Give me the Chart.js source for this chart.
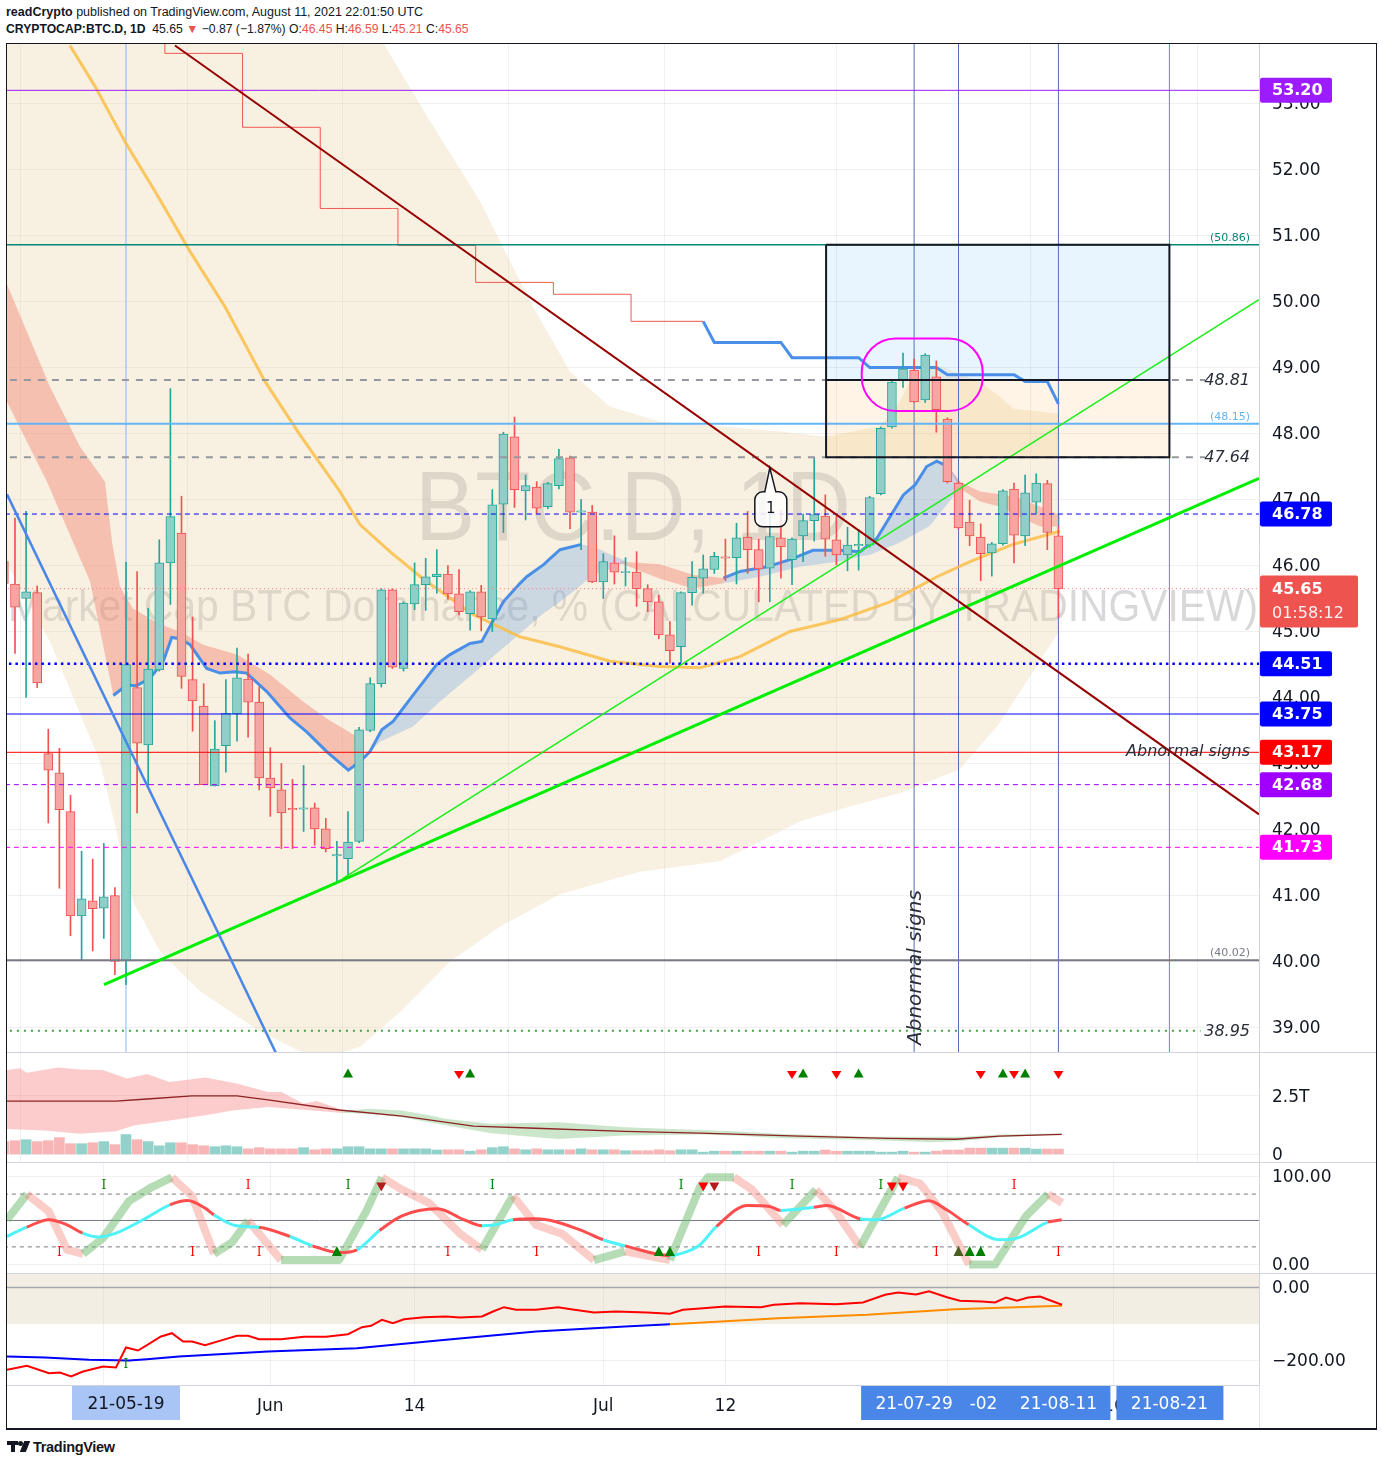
<!DOCTYPE html>
<html>
<head>
<meta charset="utf-8">
<script src="https://cdn.jsdelivr.net/npm/chart.js@4.4.1/dist/chart.umd.min.js"></script>
<style>
  html, body { margin:0; padding:0; background:#fff; }
  body { width:1382px; height:1466px; position:relative; overflow:hidden; font-family:"Liberation Sans", Arial, sans-serif; color:#131722; }
  .hdr { position:absolute; left:6px; font-size:12.5px; white-space:nowrap; line-height:14px; }
  #h1 { top:5px; }
  #h2 { top:22px; font-size:12.2px; }
  .red { color:#ef5350; }
  #frame { position:absolute; left:6px; top:43px; width:1371px; height:1387px; box-sizing:border-box; border:1px solid #131722; border-bottom:2px solid #131722; }
  canvas { position:absolute; left:7px; }
  .sep { position:absolute; left:7px; width:1369px; height:1px; background:#d1d4dc; }
  #vsep { position:absolute; left:1259px; top:1385px; width:1px; height:43px; background:#e0e3eb; }
  #foot { position:absolute; left:33px; top:1439px; font-size:14.5px; font-weight:bold; letter-spacing:-0.3px; }
  .lg { position:absolute; background:#131722; }
</style>
</head>
<body>
<div class="hdr" id="h1"><b>readCrypto</b> published on TradingView.com, August 11, 2021 22:01:50 UTC</div>
<div class="hdr" id="h2"><b>CRYPTOCAP:BTC.D, 1D</b>&nbsp; 45.65 <span class="red">▼</span> −0.87 (−1.87%) O:<span class="red">46.45</span> H:<span class="red">46.59</span> L:<span class="red">45.21</span> C:<span class="red">45.65</span></div>
<div id="frame"></div>
<canvas id="cMain" width="1369" height="1008" style="top:44px"></canvas>
<canvas id="cVol" width="1369" height="110" style="top:1053px"></canvas>
<canvas id="cOsc" width="1369" height="111" style="top:1163px"></canvas>
<canvas id="cBot" width="1369" height="154" style="top:1274px"></canvas>
<div class="sep" style="top:1052px"></div>
<div class="sep" style="top:1162px"></div>
<div class="sep" style="top:1273px"></div>
<div id="vsep"></div>
<div class="lg" style="left:7px;top:1441px;width:11px;height:4px"></div>
<div class="lg" style="left:11px;top:1441px;width:4px;height:11px"></div>
<div class="lg" style="left:18px;top:1441px;width:5px;height:5px;border-radius:3px"></div>
<div class="lg" style="left:22px;top:1441px;width:6px;height:11px;transform:skewX(-22deg)"></div>
<div id="foot">TradingView</div>
<script>
// ---------------- DATA ----------------
// day index 0 = 2021-05-08 ... 95 = 2021-08-11
const opens  = [46.06,45.72,45.50,45.59,43.15,42.86,42.27,40.69,40.92,40.81,41.00,40.01,44.15,43.28,44.42,46.04,46.49,44.27,43.87,42.66,43.27,43.75,44.28,43.93,42.78,42.60,42.32,42.31,42.33,42.01,41.60,41.56,41.82,43.50,44.21,45.63,44.44,45.42,45.71,45.83,45.87,45.57,45.27,45.60,45.19,46.93,47.95,47.13,47.19,46.89,47.21,47.63,46.81,46.81,45.75,46.04,45.89,45.90,45.65,45.45,44.95,44.77,45.59,45.81,45.94,46.13,46.12,46.43,46.24,45.96,46.42,46.09,46.45,46.68,46.75,46.39,46.16,46.30,46.31,47.09,48.10,48.81,48.96,48.51,48.86,48.22,47.25,46.66,46.43,46.19,46.33,47.16,46.45,46.96,47.24,46.45];
const highs  = [46.20,46.72,46.82,45.69,43.52,43.23,42.52,41.67,41.55,41.79,41.12,46.05,45.91,45.35,46.39,48.68,47.05,45.22,44.21,43.65,44.27,44.75,44.66,44.16,43.24,43.00,42.76,42.97,42.40,42.17,41.82,42.27,43.55,44.30,45.65,45.65,45.45,46.04,46.11,46.24,46.00,45.94,45.62,45.70,47.15,48.02,48.25,47.37,47.27,47.26,47.76,47.66,47.00,46.91,46.18,46.45,46.12,46.21,45.71,45.55,45.15,45.60,46.06,46.16,46.20,46.40,46.64,46.82,46.40,46.79,46.84,46.42,46.78,47.63,47.07,46.75,46.58,46.54,47.05,48.10,48.80,49.22,49.13,49.21,49.10,48.24,47.27,46.99,46.63,46.35,47.15,47.25,47.37,47.39,47.29,46.59];
const lows   = [45.60,44.67,44.00,44.15,42.10,41.11,40.39,40.02,40.16,40.35,39.80,39.65,42.25,42.67,44.40,45.41,44.14,43.49,42.68,42.66,42.87,43.34,43.40,42.60,42.20,41.71,41.71,41.97,41.76,41.66,41.21,41.26,41.80,43.48,44.16,44.44,44.40,45.33,45.32,45.58,45.49,45.25,45.02,45.01,45.00,46.50,46.88,46.69,46.79,46.86,47.16,46.56,46.24,45.74,45.50,45.72,45.69,45.38,45.30,44.89,44.52,44.53,45.40,45.58,45.88,45.77,45.72,45.88,45.45,45.45,45.81,45.71,46.06,46.37,46.14,46.01,45.92,45.93,46.28,47.07,48.08,48.70,48.47,48.47,48.02,47.25,46.55,46.30,45.77,45.84,46.31,46.04,46.30,46.78,46.24,45.21];
const closes = [45.73,45.37,45.60,44.22,42.90,42.30,40.69,40.95,40.80,40.98,40.00,44.50,43.31,44.43,46.04,46.74,44.32,43.95,42.68,43.22,43.76,44.30,43.93,42.78,42.63,42.25,42.30,42.33,42.01,41.71,41.62,41.81,43.51,44.21,45.63,44.46,45.43,45.71,45.83,45.87,45.57,45.30,45.60,45.22,46.92,47.99,47.15,47.21,46.87,47.24,47.62,46.81,46.83,45.75,46.06,45.90,45.91,45.65,45.45,44.95,44.71,45.59,45.82,45.95,46.14,46.11,46.42,46.24,45.95,46.44,46.28,46.40,46.68,46.77,46.40,46.16,46.31,46.32,47.03,48.08,48.78,48.98,48.48,49.19,48.36,47.27,46.57,46.45,46.18,46.33,47.13,46.46,47.10,47.25,46.50,45.65];
const volumes = [0.55,0.59,0.63,0.55,0.59,0.72,0.46,0.46,0.50,0.55,0.42, 0.85,0.63,0.55,0.37,0.50,0.50,0.42,0.37,0.33,0.37, 0.33,0.24,0.29,0.24,0.24,0.24,0.29,0.20,0.24,0.24, 0.33,0.33,0.24,0.24,0.24,0.24,0.24,0.24,0.19,0.20, 0.20,0.14,0.20,0.29,0.33,0.24,0.20,0.24,0.20,0.20, 0.20,0.24,0.20,0.20,0.20,0.16,0.16,0.16,0.20,0.16, 0.20,0.20,0.10,0.14,0.14,0.14,0.14,0.14,0.14,0.14, 0.10,0.14,0.14,0.19,0.14,0.14,0.14,0.14,0.10,0.10, 0.14,0.10,0.10,0.14,0.19,0.19,0.27,0.27,0.27,0.27, 0.27,0.27,0.23,0.23,0.23];

// time axis
const gridDays = [9, 24, 37, 54, 65, 85, 100];
const timeLabels = ['17', 'Jun', '14', 'Jul', '12', 'Aug', '16'];
const markedDays = [11, 82, 86, 95, 105];
const markedLabels = ['21-05-19', '21-07-29', '-02', '21-08-11', '21-08-21'];

// price axis
const priceTicks = [39,40,41,42,43,44,45,46,47,48,49,50,51,52,53];
const levelPrices = [53.20, 50.86, 48.81, 48.15, 47.64, 46.78, 45.65, 44.51, 43.75, 43.17, 42.68, 41.73, 40.02, 38.95];
const tagPrices = [53.20, 46.78, 44.51, 43.75, 43.17, 42.68, 41.73];
const lastPrice = 45.65;
const countdown = '01:58:12';
const vlineDays = [11, 82, 86, 95, 105];

// drawings
const trendDarkRed = [[15.41, 53.88], [113.07, 42.23]];
const trendBlue = [[0.28, 47.08], [24.52, 38.61]];
const trendGreenThick = [[9.02, 39.65], [113.07, 47.32]];
const trendGreenThin = [[30.55, 41.26], [113.07, 50.03]];
const boxDays = [74.07, 105];
const boxPrices = [50.86, 48.81, 47.64];
const calloutPoint = [69.0, 47.48];
const calloutText = '1';
const ellipseCenter = [82.73, 48.89];
const ellipseRadius = [5.45, 0.55];
const noteText = 'Abnormal signs';
const watermarkTitle = 'BTC.D, 1D';
const watermarkSub = 'Market Cap BTC Dominance, % (CALCULATED BY TRADINGVIEW)';

// indicators (main pane)
const stepRed = [[14,54.6],[15,53.76],[21,53.76],[22,52.64],[28,52.64],[29,51.41],[35,51.41],[36,50.85],[42,50.85],[43,50.29],[49,50.29],[50,50.11],[56,50.11],[57,49.70],[63,49.70]];
const stepBlue = [[63,49.70],[64,49.38],[70,49.38],[71,49.15],[77,49.15],[78,49.00],[84,49.00],[85,48.89],[91,48.89],[92,48.79],[94,48.79],[95,48.45]];
const emaYellow = [[5.95,53.88],[8.21,53.26],[10.91,52.42],[13.61,51.67],[16.76,50.76],[19.92,49.92],[23.52,48.79],[26.67,47.98],[30.28,47.12],[32.08,46.62],[34.78,46.21],[37.76,45.80],[42.26,45.26],[46.49,44.92],[50.09,44.77],[54.60,44.55],[59.10,44.47],[62.71,44.45],[66.31,44.62],[70.81,45.00],[75.32,45.18],[79.83,45.45],[84.06,45.83],[87.04,46.06],[90.91,46.32],[95.14,46.52]];
const emaBlue1 = [[9.86,44.03],[11.06,44.19],[11.96,44.18],[13.16,44.29],[14.36,44.55],[15.12,44.91],[15.86,44.89],[16.77,44.80],[18.27,44.44],[19.47,44.37],[20.82,44.39],[21.87,44.37],[23.68,44.09],[25.77,43.69],[27.28,43.48],[29.08,43.18],[31.03,42.90],[32.08,43.03],[32.98,43.18],[34.04,43.51],[35.08,43.64],[36.88,44.04],[38.99,44.50],[40.19,44.65],[41.99,44.82],[43.05,44.85],[44.99,45.45],[46.50,45.73],[47.10,45.83],[48.59,46.01],[50.10,46.24],[52.05,46.32]];
const emaBlue2 = [[64.81,45.81],[66.31,45.91],[68.72,45.98],[70.82,46.09],[72.89,46.23],[75.32,46.23],[77.13,46.21],[78.63,46.41],[81.03,47.07],[82.08,47.22],[83.13,47.50],[84.04,47.58],[85.08,47.50]];
const pinkUpper1 = [[0.28,50.26],[4.15,48.71],[6.86,47.80],[9.11,47.27],[9.74,46.36],[10.46,45.68],[11.63,45.35],[14.06,45.11],[15.86,45.00],[17.94,44.80],[21.0,44.65],[23.97,44.35],[26.95,43.94],[29.11,43.68],[32.08,43.38]];
const pinkLowerLead = [[0.28,48.48],[3.88,47.27],[7.76,45.76]];
const blueTail1 = [[53.07,46.29],[54.6,46.17],[56.13,46.06]];
const blueLower1 = [[32.08,43.03],[33.88,43.33],[36.86,43.56],[39.29,43.94],[42.26,44.36],[44.42,44.67],[46.50,44.97],[48.56,45.27],[50.10,45.45],[51.63,45.65],[53.07,45.86],[54.60,45.94],[56.13,46.06]];
const pinkUpper2 = [[55.5,46.06],[59.1,46.02],[62.08,45.86],[64.81,45.81]];
const pinkLower2 = [[55.5,46.04],[59.1,45.80],[62.08,45.65],[64.81,45.73]];
const blueLower2 = [[64.81,45.73],[68.1,45.83],[71.7,45.98],[75.3,46.06],[77.13,46.14],[78.0,46.16],[80.7,46.35],[83.4,46.60],[85.08,46.95],[86.13,47.17]];
const pinkUpper3 = [[85.08,47.50],[86.13,47.27],[87.93,47.12],[89.74,47.08],[91.5,47.02],[93.35,46.89],[95.14,46.77]];
const pinkLower3 = [[86.13,47.17],[87.93,46.97],[89.74,46.89],[91.5,46.74],[93.35,46.59],[95.14,46.59]];
const cloudUpper = [[0.28,55.5],[30,55.5],[34.3,53.88],[38.4,52.73],[42.9,51.52],[47.4,50.0],[51.0,48.94],[54.6,48.41],[59.1,48.18],[64.5,48.11],[69.9,48.03],[74.1,47.95],[78.9,48.11],[80.7,48.48],[82.1,48.94],[84.3,49.02],[87.9,48.79],[89.7,48.56],[90.9,48.38],[95.05,48.30]];
const cloudLower = [[0.28,46.02],[4.15,44.85],[8.66,43.03],[11.63,40.91],[14.06,40.15],[17.67,39.55],[23.07,38.94],[26.67,38.64],[29.4,38.56],[32.1,38.71],[35.7,39.24],[40.2,40.0],[44.7,40.53],[50.1,41.02],[57.3,41.36],[64.5,41.52],[69.0,41.89],[71.7,42.12],[76.2,42.35],[80.7,42.55],[86.1,42.91],[89.7,43.61],[93.3,44.55],[95.05,45.0]];

// volume pane
const volMA = [[0.28,2.28],[10.1,2.28],[12.9,2.37],[16.95,2.5],[21.0,2.5],[23.8,2.33],[30.2,1.90],[35.9,1.64],[42.3,1.21],[47.9,1.12],[55.95,0.99],[62.7,0.91],[71.7,0.78],[79.7,0.69],[85.7,0.65],[89.7,0.78],[95.3,0.86]];
const volBandUpperPink = [[0.25,3.61],[1.46,3.68],[2.06,3.49],[4.87,3.72],[6.89,3.63],[8.9,3.61],[11.1,3.25],[12.9,3.44],[14.9,3.10],[18.15,3.29],[20.96,3.03],[23.8,2.67],[25.0,2.67],[27.0,2.17],[28.2,2.28],[30.6,1.88]];
const volBandLowerPink = [[0.25,1.09],[3.67,1.02],[6.89,0.88],[10.1,0.99],[11.7,1.24],[14.9,1.45],[18.15,1.67],[20.6,1.88],[23.8,2.03],[27.8,1.88],[30.6,1.77]];
const volBandUpperGreen = [[30.6,1.88],[33.0,1.95],[35.85,1.88],[38.3,1.67],[39.9,1.52],[43.9,1.31],[49.9,1.38],[55.95,1.16],[62.7,1.05],[65.8,0.99],[69.8,0.88],[77.8,0.76],[83.7,0.76],[86.5,0.76],[89.7,0.85],[95.3,0.91]];
const volBandLowerGreen = [[30.6,1.77],[33.0,1.74],[35.85,1.59],[39.9,1.24],[43.9,0.91],[49.9,0.66],[55.95,0.81],[62.7,0.85],[65.8,0.81],[69.8,0.70],[77.8,0.62],[83.7,0.52],[86.5,0.59],[89.7,0.73],[95.3,0.85]];
const volUpDays = [31, 42, 72, 77, 90, 92];
const volDownDays = [41, 71, 75, 88, 91, 95];

// oscillator pane
const oscK = [[0.28,50.8],[2.08,80],[4.06,60],[5.68,17],[7.13,12],[8.93,30],[11.27,72],[13.34,88],[15.14,99],[16.95,78],[18.93,12],[20.55,25],[21.99,50],[24.96,5],[27.76,5],[30.19,5],[32.62,60],[34.06,99],[35.86,85],[38.29,70],[41.09,35],[43.07,17],[45.86,78],[47.94,45],[50.28,35],[53.16,5],[55.95,15],[60.0,5],[62.71,88],[63.43,99],[65.77,99],[67.4,85],[70.19,45],[73.16,85],[74.96,60],[77.13,20],[80.55,99],[82.53,92],[84.51,60],[86.95,0],[89.29,0],[92.08,55],[94.06,80],[95.32,70]];
const oscSignal = [[0.25,31.8],[2.06,42.4],[4.06,50.8],[5.68,45.1],[7.09,35.6],[8.48,31.1],[10.1,35.6],[12.53,50.8],[14.96,67.8],[16.54,72.7],[18.12,64.0],[18.93,56.4],[20.96,44.0],[22.98,42.4],[25.77,31.8],[27.8,21.2],[30.19,13.6],[31.81,16.7],[33.84,38.6],[35.86,55.3],[39.06,63.3],[41.45,50.8],[43.07,44.0],[44.29,45.1],[45.86,50.8],[47.94,51.9],[51.9,39.4],[53.97,28.1],[55.95,21.2],[60.0,10.2],[61.59,14.8],[62.71,22.4],[64.2,43.2],[66.99,67.0],[68.98,65.9],[69.98,61.4],[72.98,65.1],[74.15,67.0],[77.13,51.9],[78.57,50.8],[81.14,64.0],[83.34,72.3],[84.93,62.1],[86.93,45.1],[89.74,28.1],[91.27,29.9],[94.06,48.1],[95.3,50.8]];
const oscSignalRed = [[2.06,7.09],[14.96,18.93],[22.98,25.77],[27.8,31.81],[33.84,43.07],[45.86,53.97],[55.95,60.0],[64.2,69.98],[72.98,77.13],[81.14,86.93],[94.06,95.3]];
const oscLevels = [80, 50, 20];
const oscTopGreenI = [9, 31, 44, 61, 71, 79];
const oscTopRedI = [22, 91];
const oscTopRedTri = [34, 63, 64, 80, 81];
const oscBotRedI = [5, 17, 23, 40, 48, 68, 75, 84, 95];
const oscBotGreenTri = [30, 59, 60, 86, 87, 88];

// bottom pane
const botRed = [[0.28,-225.5],[2.08,-214.5],[4.06,-234.7],[5.05,-232.9],[6.05,-243.8],[7.13,-230.1],[8.93,-216.4],[10.1,-219.2],[11.0,-164.4],[12.08,-172.6],[12.89,-158],[14.15,-134.2],[15.14,-125.1],[16.14,-148],[16.95,-148],[18.12,-158],[19.74,-143.4],[21.0,-132.4],[21.99,-132.4],[22.98,-141.6],[24.96,-141.6],[27.04,-135.2],[29.02,-135.2],[31.0,-127.9],[32.26,-108.7],[33.07,-105],[34.06,-88.5],[35.05,-97.7],[36.04,-86.8],[37.85,-81.3],[39.83,-79.5],[41.09,-82.2],[43.07,-79.5],[44.06,-65.8],[45.05,-53.9],[46.14,-61.1],[47.94,-61.1],[49.92,-53.9],[51.09,-59.4],[53.16,-68.5],[55.14,-65.8],[57.93,-68.5],[60.0,-72.1],[61.18,-61.1],[62.71,-57.5],[64.96,-52.1],[68.2,-53.9],[69.38,-47.4],[71.72,-43],[74.96,-45.8],[77.39,-41.1],[79.38,-20],[80.55,-13.7],[82.17,-19.2],[83.34,-10.1],[84.96,-26.6],[86.13,-36.4],[88.11,-38.4],[89.29,-41.1],[90.28,-27.4],[91.27,-36.4],[92.26,-27.4],[93.34,-24.7],[95.32,-47.4]];
const botBlue = [[0.28,-189],[3.7,-191.8],[7.67,-198.1],[11.27,-200],[12.89,-196.4],[15.77,-189],[23.79,-175.3],[31.81,-166.3],[39.83,-143.3],[47.94,-120.5],[55.95,-106.8],[60.0,-100.5]];
const botOrange = [[60.0,-100.5],[61.8,-97.7],[69.74,-84.1],[77.75,-74.8],[85.68,-59.4],[95.32,-50.1]];
const botBand = [100, -100];
const botGreenI = [11];

// ---------------- STYLE / HELPERS ----------------
Chart.defaults.font.family = '"DejaVu Sans", sans-serif';
Chart.defaults.color = '#131722';
const GRID = 'rgba(42,46,57,0.07)';
const X_MIN = 0.28, X_MAX = 113.07;
const GREEN_FILL = '#8fcfc7', GREEN_LINE = '#26a69a', RED_FILL = '#f6a5a2', RED_LINE = '#ef5350';

const P = arr => arr.map(p => ({x: p[0], y: p[1]}));
function ln(points, color, width, extra) {
  return Object.assign({type: 'line', data: P(points), borderColor: color, borderWidth: width, pointRadius: 0, fill: false, tension: 0}, extra || {});
}
function shape(upper, lower, color, order) {
  return {type: 'line', data: P(upper.concat(lower.slice().reverse())), borderColor: 'rgba(0,0,0,0)', borderWidth: 0,
    backgroundColor: color, fill: 'shape', pointRadius: 0, tension: 0, order: order};
}
function xScale(showLabels) {
  return {
    type: 'linear', min: X_MIN, max: X_MAX, offset: false,
    grid: {color: GRID, drawTicks: false},
    border: {display: showLabels, color: '#d1d4dc'},
    ticks: {display: showLabels, autoSkip: false, maxRotation: 0, padding: 11, font: {size: 17}, color: '#131722',
      callback: v => { const i = gridDays.indexOf(v); return i >= 0 ? timeLabels[i] : ''; }},
    afterBuildTicks: s => { s.ticks = gridDays.map(v => ({value: v})); },
    afterFit: s => { s.height = showLabels ? 43 : 0; s.paddingLeft = 0; s.paddingRight = 0; }
  };
}
function yScale(min, max, ticks, fmt) {
  return {
    type: 'linear', position: 'right', min: min, max: max,
    grid: {color: GRID, drawTicks: false},
    border: {display: true, color: '#d1d4dc'},
    ticks: {padding: 13, labelOffset: 1.5, font: {size: 17}, color: '#131722', callback: fmt},
    afterBuildTicks: s => { s.ticks = ticks.map(v => ({value: v})); },
    afterFit: s => { s.width = 117; s.paddingTop = 0; s.paddingBottom = 0; }
  };
}
function baseOptions(scales) {
  return {responsive: false, animation: false, events: [], layout: {padding: 0},
    plugins: {legend: {display: false}, tooltip: {enabled: false}}, scales: scales};
}
function tri(ctx, x, y, up, color, w, h) {
  ctx.fillStyle = color; ctx.beginPath();
  if (up) { ctx.moveTo(x, y - h / 2); ctx.lineTo(x + w / 2, y + h / 2); ctx.lineTo(x - w / 2, y + h / 2); }
  else { ctx.moveTo(x - w / 2, y - h / 2); ctx.lineTo(x + w / 2, y - h / 2); ctx.lineTo(x, y + h / 2); }
  ctx.closePath(); ctx.fill();
}
function fitText(ctx, text, x, y, size, width) {
  ctx.font = size + 'px "Liberation Sans"';
  const w = ctx.measureText(text).width;
  ctx.save(); ctx.translate(x, y); ctx.scale(width / w, 1); ctx.fillText(text, 0, 0); ctx.restore();
}
const isUp = i => closes[i] >= opens[i];

// ---------------- MAIN PANE ----------------
const Y_MIN = 38.629, Y_MAX = 53.902;
const levelStyle = [
  {c: '#9c1cff', w: 1}, {c: '#00897b', w: 1.5}, {c: '#9598a1', w: 2, d: [7, 7], end: 108.2}, {c: '#64b5f6', w: 2},
  {c: '#9598a1', w: 2, d: [7, 7], end: 108.2}, {c: '#0000ff', w: 1, d: [5, 4]}, {c: '#f77c80', w: 1, d: [1, 3]},
  {c: '#0000ff', w: 2.5, d: [2.5, 4]}, {c: '#0000ff', w: 1}, {c: '#ff0000', w: 1}, {c: '#a000ff', w: 1, d: [5, 4]},
  {c: '#ff00ff', w: 1, d: [5, 4]}, {c: '#787b86', w: 2}, {c: '#43a047', w: 2, d: [2, 5], end: 107.8}
];
const tagColors = ['#9c1cff', '#0000ff', '#0000ff', '#0000ff', '#ff0000', '#a000ff', '#ff00ff'];
const vlineColors = ['#8ab4f8', '#5570b8', '#5570b8', '#5570b8', '#4d8ff0'];

const mainDatasets = [];
mainDatasets.push(shape(cloudUpper, cloudLower, 'rgba(233,208,163,0.32)', 100));
mainDatasets.push(shape([[boxDays[0], boxPrices[0]], [boxDays[1], boxPrices[0]]], [[boxDays[0], boxPrices[1]], [boxDays[1], boxPrices[1]]], 'rgba(33,150,243,0.1)', 99));
mainDatasets.push(shape([[boxDays[0], boxPrices[1]], [boxDays[1], boxPrices[1]]], [[boxDays[0], boxPrices[2]], [boxDays[1], boxPrices[2]]], 'rgba(255,152,0,0.1)', 99));
const pinkC = 'rgba(242,120,105,0.40)', blueC = 'rgba(74,144,226,0.26)';
mainDatasets.push(shape(pinkUpper1, pinkLowerLead.concat(emaBlue1.filter(p => p[0] <= 32.08)), pinkC, 90));
mainDatasets.push(shape(emaBlue1.filter(p => p[0] >= 32.08).concat(blueTail1), blueLower1, blueC, 90));
mainDatasets.push(shape(pinkUpper2, pinkLower2, pinkC, 90));
mainDatasets.push(shape(emaBlue2.concat([[86.13, 47.27]]), blueLower2, blueC, 90));
mainDatasets.push(shape(pinkUpper3, pinkLower3, pinkC, 90));
vlineDays.forEach((d, i) => mainDatasets.push(ln([[d, Y_MIN - 1], [d, Y_MAX + 1]], vlineColors[i], 1, {order: 85})));
mainDatasets.push(ln(emaYellow, 'rgba(250,190,70,0.85)', 3, {order: 80}));
mainDatasets.push(ln(emaBlue1, '#4a8fe7', 3, {order: 75}));
mainDatasets.push(ln(emaBlue2, '#4a8fe7', 3, {order: 75}));
mainDatasets.push(ln(stepRed, '#f05a4f', 1, {order: 75, stepped: 'middle'}));
mainDatasets.push(ln(stepBlue, '#4a8fe7', 3, {order: 75}));
mainDatasets.push({type: 'bar', order: 30, grouped: false, barThickness: 1, borderWidth: 0,
  data: lows.map((l, i) => ({x: i, y: [l, highs[i]]})),
  backgroundColor: c => isUp(c.dataIndex) ? GREEN_LINE : RED_LINE});
mainDatasets.push({type: 'bar', order: 20, grouped: false, barThickness: 9, borderWidth: 1, borderSkipped: false,
  data: opens.map((o, i) => ({x: i, y: [o, closes[i]]})),
  backgroundColor: c => isUp(c.dataIndex) ? GREEN_FILL : RED_FILL,
  borderColor: c => isUp(c.dataIndex) ? GREEN_LINE : RED_LINE});
levelPrices.forEach((v, i) => {
  const s = levelStyle[i];
  mainDatasets.push(ln([[X_MIN - 1, v], [s.end || X_MAX + 1, v]], s.c, s.w, {order: 15, borderDash: s.d || []}));
});
mainDatasets.push(ln(trendDarkRed, '#960000', 2, {order: 12}));
mainDatasets.push(ln(trendBlue, '#4a86e8', 2.5, {order: 12}));
mainDatasets.push(ln(trendGreenThick, '#00ee00', 3, {order: 12}));
mainDatasets.push(ln(trendGreenThin, '#1aef1a', 1.5, {order: 12}));
mainDatasets.push(ln([[boxDays[0], boxPrices[0]], [boxDays[1], boxPrices[0]], [boxDays[1], boxPrices[2]], [boxDays[0], boxPrices[2]], [boxDays[0], boxPrices[0]]], '#131722', 2, {order: 11}));
mainDatasets.push(ln([[boxDays[0], boxPrices[1]], [boxDays[1], boxPrices[1]]], '#131722', 2, {order: 11}));

const mainPlugin = {
  id: 'mainPlugin',
  beforeDatasetsDraw(chart) {
    const {ctx, chartArea: a} = chart;
    ctx.save();
    ctx.beginPath(); ctx.rect(a.left, a.top, a.right - a.left, a.bottom - a.top); ctx.clip();
    ctx.fillStyle = 'rgba(105,105,115,0.26)';
    ctx.textAlign = 'center'; ctx.textBaseline = 'alphabetic';
    const cx = (a.left + a.right) / 2;
    fitText(ctx, watermarkTitle, cx, a.top + 496, 98, 436);
    fitText(ctx, watermarkSub, cx, a.top + 577, 44, 1250);
    ctx.restore();
  },
  afterDraw(chart) {
    const {ctx, chartArea: a, scales: {x, y}} = chart;
    const px = d => x.getPixelForValue(d), py = v => y.getPixelForValue(v);
    ctx.save();
    ctx.beginPath(); ctx.rect(a.left, a.top, a.right - a.left, a.bottom - a.top); ctx.clip();
    const ex = px(ellipseCenter[0]), ey = py(ellipseCenter[1]);
    const erx = px(ellipseCenter[0] + ellipseRadius[0]) - ex, ery = ey - py(ellipseCenter[1] + ellipseRadius[1]);
    ctx.strokeStyle = '#ff00ff'; ctx.lineWidth = 2;
    ctx.beginPath(); ctx.roundRect(ex - erx, ey - ery, erx * 2, ery * 2, 34); ctx.stroke();
    const tx = px(calloutPoint[0]), ty = py(calloutPoint[1]);
    const L = tx - 15, R = tx + 17, T = ty + 24, B = ty + 59, r = 8;
    ctx.beginPath();
    ctx.moveTo(tx, ty); ctx.lineTo(tx + 6, T);
    ctx.arcTo(R, T, R, B, r); ctx.arcTo(R, B, L, B, r); ctx.arcTo(L, B, L, T, r); ctx.arcTo(L, T, R, T, r);
    ctx.lineTo(tx - 5, T); ctx.closePath();
    ctx.fillStyle = 'rgba(255,255,255,0.85)'; ctx.fill();
    ctx.strokeStyle = '#131722'; ctx.lineWidth = 1.5; ctx.stroke();
    ctx.fillStyle = '#131722'; ctx.font = '15px "DejaVu Sans"'; ctx.textAlign = 'center'; ctx.textBaseline = 'middle';
    ctx.fillText(calloutText, tx + 1, (T + B) / 2);
    const rx = a.right - 9;
    ctx.textAlign = 'right';
    ctx.font = '11px "DejaVu Sans"';
    ctx.fillStyle = '#00897b'; ctx.fillText('(' + levelPrices[1].toFixed(2) + ')', rx, py(levelPrices[1]) - 7);
    ctx.fillStyle = '#64b5f6'; ctx.fillText('(' + levelPrices[3].toFixed(2) + ')', rx, py(levelPrices[3]) - 6);
    ctx.fillStyle = '#787b86'; ctx.fillText('(' + levelPrices[12].toFixed(2) + ')', rx, py(levelPrices[12]) - 7);
    ctx.font = 'italic 16px "DejaVu Sans"'; ctx.fillStyle = '#2a2e39';
    [2, 4, 13].forEach(i => ctx.fillText(levelPrices[i].toFixed(2), rx, py(levelPrices[i]) + 1));
    ctx.fillText(noteText, rx, py(levelPrices[9]));
    ctx.save();
    ctx.translate(px(82) + 7, a.bottom - 7); ctx.rotate(-Math.PI / 2);
    ctx.textAlign = 'left'; ctx.textBaseline = 'alphabetic'; ctx.font = 'italic 20px "DejaVu Sans"';
    ctx.fillText(noteText, 0, 0);
    ctx.restore();
    ctx.restore();
    ctx.save();
    ctx.textAlign = 'left'; ctx.textBaseline = 'middle'; ctx.font = 'bold 16px "DejaVu Sans"';
    tagPrices.forEach((v, i) => {
      const yy = py(v);
      ctx.fillStyle = tagColors[i]; ctx.beginPath(); ctx.roundRect(a.right + 1, yy - 12.5, 72, 25, 2); ctx.fill();
      ctx.fillStyle = '#fff'; ctx.fillText(v.toFixed(2), a.right + 13, yy + 1);
    });
    const ly = py(lastPrice);
    ctx.fillStyle = '#ef5350'; ctx.beginPath(); ctx.roundRect(a.right + 1, ly - 13, 98, 52, 2); ctx.fill();
    ctx.fillStyle = '#fff'; ctx.fillText(lastPrice.toFixed(2), a.right + 13, ly + 1);
    ctx.font = '16px "DejaVu Sans"'; ctx.fillStyle = 'rgba(255,255,255,0.92)';
    ctx.fillText(countdown, a.right + 13, ly + 25);
    ctx.restore();
  }
};

new Chart(document.getElementById('cMain'), {
  type: 'line',
  data: {datasets: mainDatasets},
  options: baseOptions({x: xScale(false), y: yScale(Y_MIN, Y_MAX, priceTicks, v => v.toFixed(2))}),
  plugins: [mainPlugin]
});

// ---------------- VOLUME PANE ----------------
const volPlugin = {
  id: 'volPlugin',
  afterDatasetsDraw(chart) {
    const {ctx, chartArea: a, scales: {x}} = chart;
    volUpDays.forEach(d => tri(ctx, x.getPixelForValue(d), a.top + 20, true, '#008000', 10, 9));
    volDownDays.forEach(d => tri(ctx, x.getPixelForValue(d), a.top + 22, false, '#ff0000', 10, 8));
  }
};
new Chart(document.getElementById('cVol'), {
  type: 'line',
  data: {datasets: [
    shape(volBandUpperPink, volBandLowerPink, 'rgba(248,130,130,0.42)', 50),
    shape(volBandUpperGreen, volBandLowerGreen, 'rgba(120,190,120,0.38)', 50),
    {type: 'bar', order: 20, grouped: false, barThickness: 10, borderWidth: 0,
      data: volumes.map((v, i) => ({x: i, y: v})),
      backgroundColor: c => isUp(c.dataIndex) ? '#93d2cb' : '#f7b6b5'},
    ln(volMA, '#8e2323', 1.3, {order: 10})
  ]},
  options: baseOptions({x: xScale(false), y: yScale(-0.365, 4.335, [0, 2.5], v => v === 0 ? '0' : v + 'T')}),
  plugins: [volPlugin]
});

// ---------------- OSCILLATOR PANE ----------------
const oscPlugin = {
  id: 'oscPlugin',
  afterDatasetsDraw(chart) {
    const {ctx, chartArea: a, scales: {x}} = chart;
    const px = d => x.getPixelForValue(d);
    ctx.save();
    ctx.textAlign = 'center'; ctx.textBaseline = 'middle'; ctx.font = '12px "DejaVu Serif"';
    ctx.fillStyle = '#008000'; oscTopGreenI.forEach(d => ctx.fillText('I', px(d), a.top + 23));
    ctx.fillStyle = '#ff0000'; oscTopRedI.forEach(d => ctx.fillText('I', px(d), a.top + 23));
    ctx.fillStyle = '#ff0000'; oscBotRedI.forEach(d => ctx.fillText('I', px(d), a.top + 90));
    oscTopRedTri.forEach((d, i) => tri(ctx, px(d), a.top + 24, false, i % 2 === 0 && i < 4 ? '#b71c1c' : '#ff0000', 10, 9));
    oscBotGreenTri.forEach((d, i) => tri(ctx, px(d), a.top + 88, true, i === 3 ? '#4b5e1f' : '#008000', 10, 10));
    ctx.restore();
  }
};
new Chart(document.getElementById('cOsc'), {
  type: 'line',
  data: {datasets: [
    ln([[X_MIN - 1, oscLevels[0]], [X_MAX + 1, oscLevels[0]]], '#787b86', 1, {order: 50, borderDash: [4, 4]}),
    ln([[X_MIN - 1, oscLevels[1]], [X_MAX + 1, oscLevels[1]]], '#787b86', 1, {order: 50}),
    ln([[X_MIN - 1, oscLevels[2]], [X_MAX + 1, oscLevels[2]]], '#787b86', 1, {order: 50, borderDash: [4, 4]}),
    ln(oscK, 'rgba(0,0,0,0)', 8, {order: 30, borderJoinStyle: 'round',
      segment: {borderColor: c => c.p1.parsed.y >= c.p0.parsed.y ? 'rgba(110,185,110,0.5)' : 'rgba(246,130,120,0.4)'}}),
    ln(oscSignal, '#4df3f7', 3, {order: 20, cubicInterpolationMode: 'monotone',
      segment: {borderColor: c => { const m = (c.p0.parsed.x + c.p1.parsed.x) / 2; return oscSignalRed.some(r => m > r[0] && m < r[1]) ? '#ff4d4d' : '#4df3f7'; }}})
  ]},
  options: baseOptions({x: xScale(false), y: yScale(-10.8, 115.3, [0, 100], v => v.toFixed(2))}),
  plugins: [oscPlugin]
});

// ---------------- BOTTOM PANE + TIME AXIS ----------------
const botPlugin = {
  id: 'botPlugin',
  afterDraw(chart) {
    const {ctx, chartArea: a, scales: {x}} = chart;
    const px = d => x.getPixelForValue(d);
    ctx.save();
    ctx.textAlign = 'center'; ctx.textBaseline = 'middle';
    ctx.font = '12px "DejaVu Serif"'; ctx.fillStyle = '#008000';
    botGreenI.forEach(d => ctx.fillText('I', px(d), a.top + 91));
    const ty0 = a.bottom + 1, th = 34, tc = ty0 + 19;
    ctx.font = '17px "DejaVu Sans"';
    ctx.fillStyle = '#a8c5f5'; ctx.fillRect(px(markedDays[0]) - 54, ty0, 108, th);
    ctx.fillStyle = '#131722'; ctx.fillText(markedLabels[0], px(markedDays[0]), tc);
    ctx.fillStyle = '#4a86e8';
    ctx.fillRect(px(markedDays[1]) - 53, ty0, px(markedDays[3]) + 52 - (px(markedDays[1]) - 53), th);
    ctx.fillRect(px(markedDays[4]) - 53, ty0, 107, th);
    ctx.fillStyle = '#ffffff';
    ctx.fillText(markedLabels[1], px(markedDays[1]), tc);
    ctx.fillText(markedLabels[2], px(markedDays[2]) + 25, tc);
    ctx.fillText(markedLabels[3], px(markedDays[3]), tc);
    ctx.fillText(markedLabels[4], px(markedDays[4]), tc);
    ctx.restore();
  }
};
new Chart(document.getElementById('cBot'), {
  type: 'line',
  data: {datasets: [
    shape([[X_MIN - 1, botBand[0]], [X_MAX + 1, botBand[0]]], [[X_MIN - 1, botBand[1]], [X_MAX + 1, botBand[1]]], 'rgba(222,205,175,0.35)', 60),
    ln([[X_MIN - 1, 0], [X_MAX + 1, 0]], '#a3a6af', 1.5, {order: 50}),
    ln(botBlue, '#0000ff', 2, {order: 30}),
    ln(botOrange, '#ff8c00', 2, {order: 30}),
    ln(botRed, '#ff0000', 2, {order: 20})
  ]},
  options: baseOptions({x: xScale(true), y: yScale(-267.1, 37.0, [0, -200], v => v.toFixed(2).replace('-', '\u2212'))}),
  plugins: [botPlugin]
});
</script>
</body>
</html>
